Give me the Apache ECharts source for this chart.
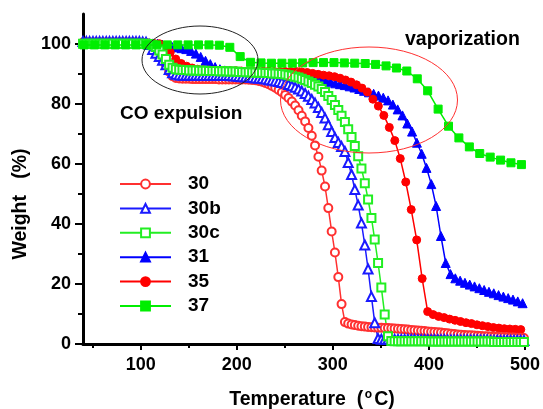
<!DOCTYPE html>
<html>
<head>
<meta charset="utf-8">
<script src="https://cdn.jsdelivr.net/npm/echarts@6/dist/echarts.min.js"></script>
<style>html,body{margin:0;padding:0;background:#fff}#c{width:543px;height:409px}</style>
</head>
<body>
<div id="c"></div>
<script>
// ---- tick values ----
var xMajor = [100, 200, 300, 400, 500];
var xMinor = [50, 150, 250, 350, 450];
var yMajor = [0, 20, 40, 60, 80, 100];
var yMinor = [10, 30, 50, 70, 90];
var seriesNames = ['30', '30b', '30c', '31', '35', '37'];

// ---- temperatures (°C) shared by 30, 30b, 30c ----
var tempDense = [40.0, 43.5, 46.9, 50.4, 53.8, 57.3, 60.7, 64.2, 67.6, 71.1,
74.5, 78.0, 81.4, 84.9, 88.3, 91.8, 95.2, 98.7, 102.1, 105.6,
109.0, 112.5, 115.9, 119.4, 122.8, 126.3, 129.7, 133.2, 136.6, 140.1,
143.5, 147.0, 150.4, 153.9, 157.3, 160.8, 164.2, 167.7, 171.1, 174.6,
178.0, 181.5, 184.9, 188.4, 191.8, 195.3, 198.7, 202.2, 205.6, 209.1,
212.5, 216.0, 219.4, 222.9, 226.3, 229.8, 233.2, 236.7, 240.1, 243.6,
247.0, 250.5, 253.9, 257.4, 260.8, 264.3, 267.7, 271.2, 274.6, 278.1,
281.5, 285.0, 288.4, 291.9, 295.3, 298.8, 302.2, 305.7, 309.1, 312.6,
316.0, 319.5, 322.9, 326.4, 329.8, 333.3, 336.7, 340.2, 343.6, 347.1,
350.5, 354.0, 357.4, 360.9, 364.3, 367.8, 371.2, 374.7, 378.1, 381.6,
385.0, 388.5, 391.9, 395.4, 398.8, 402.3, 405.7, 409.2, 412.6, 416.1,
419.5, 423.0, 426.4, 429.9, 433.3, 436.8, 440.2, 443.7, 447.1, 450.6,
454.0, 457.5, 460.9, 464.4, 467.8, 471.3, 474.7, 478.2, 481.6, 485.1,
488.5, 492.0, 495.4, 498.9];

var weight30 = [100.5,100.5,100.5,100.5,100.5,100.5,100.5,100.5,100.5,100.5,
100.5,100.5,100.5,100.5,100.5,100.5,100.5,100.4,100.4,100.3,
100.0,99.3,98.0,96.7,95.2,93.0,90.8,89.3,88.7,88.5,
88.4,88.4,88.4,88.3,88.3,88.3,88.3,88.3,88.3,88.3,
88.3,88.2,88.2,88.2,88.2,88.2,88.2,88.2,88.2,88.2,
88.1,88.0,87.9,87.7,87.4,87.0,86.6,86.0,85.4,84.7,
83.9,83.0,82.0,80.8,79.5,77.9,76.1,74.2,72.0,69.4,
66.2,62.4,57.8,52.5,45.3,37.5,30.5,22.3,13.3,7.3,
6.8,6.5,6.3,6.1,5.9,5.8,5.7,5.6,5.5,5.45,
5.4,5.35,5.3,5.25,5.2,5.1,5.0,4.9,4.8,4.7,
4.6,4.5,4.4,4.3,4.2,4.1,4.0,3.9,3.8,3.7,
3.6,3.4,3.3,3.2,3.1,3.0,2.95,2.9,2.8,2.75,
2.7,2.6,2.55,2.5,2.45,2.4,2.35,2.3,2.25,2.2,
2.15,2.1,2.05,2.0];

var weight30b = [100.8,100.8,100.8,100.8,100.8,100.8,100.8,100.8,100.8,100.8,
100.8,100.8,100.8,100.8,100.8,100.8,100.8,100.8,100.7,100.6,
99.8,98.2,96.9,95.8,94.6,93.1,91.5,90.4,89.9,89.7,
89.6,89.6,89.6,89.6,89.6,89.6,89.5,89.5,89.5,89.5,
89.5,89.5,89.5,89.5,89.5,89.4,89.3,89.2,89.1,89.0,
88.9,88.8,88.7,88.6,88.5,88.3,88.1,87.9,87.7,87.5,
87.2,86.9,86.5,86.1,85.6,85.0,84.3,83.5,82.6,81.5,
80.3,78.8,77.2,75.3,73.1,70.8,68.8,67.2,65.8,64.2,
60.5,56.5,51.5,46.3,40.3,33.0,25.0,15.8,7.1,1.8,
1.6,1.6,1.6,1.6,1.5,1.5,1.5,1.5,1.5,1.5,
1.5,1.4,1.4,1.4,1.4,1.4,1.4,1.4,1.4,1.4,
1.3,1.3,1.3,1.3,1.3,1.3,1.3,1.3,1.3,1.3,
1.3,1.3,1.3,1.2,1.2,1.2,1.2,1.2,1.2,1.2,
1.2,1.2,1.2,1.2];

var weight30c = [100.1,100.1,100.1,100.1,100.1,100.1,100.1,100.1,100.1,100.1,
100.1,100.1,100.1,100.1,100.1,100.1,100.1,100.1,100.1,100.1,
100.0,99.6,99.0,97.8,96.5,95.0,93.1,92.1,91.6,91.4,
91.3,91.3,91.2,91.2,91.2,91.1,91.1,91.1,91.0,91.0,
91.0,90.9,90.9,90.9,90.8,90.8,90.8,90.7,90.7,90.6,
90.6,90.5,90.5,90.4,90.4,90.3,90.3,90.2,90.2,90.1,
90.0,89.8,89.6,89.4,89.1,88.8,88.4,88.0,87.5,87.0,
86.4,85.8,85.0,84.0,82.7,81.3,79.7,78.0,76.1,74.0,
71.6,69.0,66.0,62.6,58.5,53.6,48.2,42.0,34.8,27.0,
18.8,9.8,2.6,1.0,0.9,0.9,0.9,0.9,0.9,0.9,
0.9,0.9,0.9,0.9,0.9,0.8,0.8,0.8,0.8,0.8,
0.8,0.8,0.8,0.8,0.8,0.8,0.8,0.8,0.8,0.8,
0.8,0.8,0.8,0.8,0.7,0.7,0.7,0.7,0.7,0.7,
0.7,0.7,0.7,0.7];

// ---- series 31 ----
var temp31 = [42.5, 47.5, 52.5, 57.5, 62.5, 67.5, 72.5, 77.5, 82.5, 87.5,
92.5, 97.5, 102.5, 107.5, 112.5, 117.5, 122.5, 127.5, 132.5, 137.5,
142.5, 147.5, 152.5, 157.5, 162.5, 167.5, 172.5, 177.5, 182.5, 187.5,
192.5, 197.5, 202.5, 207.5, 212.5, 217.5, 222.5, 227.5, 232.5, 237.5,
242.5, 247.5, 252.5, 257.5, 262.5, 267.5, 272.5, 277.5, 282.5, 287.5,
292.5, 297.5, 302.5, 307.5, 312.5, 317.5, 322.5, 327.5, 332.5, 337.5,
342.5, 347.5, 352.5, 357.5, 362.5, 367.5, 372.5, 377.5, 382.5, 387.5,
392.5, 397.5, 402.5, 407.5, 412.5, 417.5, 422.5, 427.5, 432.5, 437.5,
442.5, 447.5, 452.5, 457.5, 462.5, 467.5, 472.5, 477.5, 482.5, 487.5,
492.5, 497.5];
var weight31 = [100.3,100.3,100.3,100.3,100.3,100.3,100.3,100.3,100.3,100.3,
100.3,100.3,100.3,100.3,100.2,100.1,99.8,99.4,99.1,98.9,
98.6,98.3,97.7,96.8,95.7,94.4,93.3,92.3,91.6,91.2,
91.0,90.9,90.8,90.7,90.6,90.5,90.4,90.3,90.2,90.1,
90.0,89.9,89.8,89.7,89.6,89.4,89.1,88.8,88.5,88.2,
87.8,87.4,86.9,86.6,86.3,85.9,85.5,85.0,84.4,83.9,
83.4,82.8,82.1,81.2,79.8,78.2,76.2,73.5,70.8,67.1,
63.4,58.7,53.3,46.0,36.0,27.0,23.3,21.9,21.1,20.4,
19.8,19.2,18.6,18.0,17.4,16.9,16.3,15.8,15.3,14.8,
14.2,13.6];

// ---- series 35 ----
var temp35 = [39.6, 45.3, 51.0, 56.7, 62.4, 68.1, 73.8, 79.5, 85.2, 90.9,
96.6, 102.3, 108.0, 113.7, 119.4, 125.1, 130.8, 136.5, 142.2, 147.9,
153.6, 159.3, 165.0, 170.7, 176.4, 182.1, 187.8, 193.5, 199.2, 204.9,
210.6, 216.3, 222.0, 227.7, 233.4, 239.1, 244.8, 250.5, 256.2, 261.9,
267.6, 273.3, 279.0, 284.7, 290.4, 296.1, 301.8, 307.5, 313.2, 318.9,
324.6, 330.3, 336.0, 341.7, 347.4, 353.1, 358.8, 364.5, 370.2, 375.9,
381.6, 387.3, 393.0, 398.7, 404.4, 410.1, 415.8, 421.5, 427.2, 432.9,
438.6, 444.3, 450.0, 455.7, 461.4, 467.1, 472.8, 478.5, 484.2, 489.9,
495.6];
var weight35 = [100.2,100.2,100.2,100.2,100.2,100.2,100.2,100.2,100.2,100.2,
100.2,100.2,100.2,100.2,100.1,99.5,97.2,95.0,93.5,92.6,
92.0,91.6,91.4,91.3,91.3,91.2,91.2,91.1,91.1,91.0,
91.0,91.0,90.9,90.9,90.9,90.8,90.8,90.8,90.8,90.8,
90.7,90.5,90.2,89.9,89.6,89.4,89.1,88.6,88.0,87.3,
86.4,85.3,84.0,81.6,79.3,76.2,72.2,67.8,61.8,54.0,
44.8,34.7,21.8,10.8,9.8,9.2,8.8,8.3,7.9,7.5,
7.1,6.8,6.4,6.1,5.8,5.5,5.3,5.1,5.0,4.9,
4.8];

// ---- series 37 ----
var temp37 = [41.0, 51.8, 62.7, 73.5, 84.4, 95.2, 106.0, 116.9, 127.7, 138.6,
149.4, 160.2, 171.1, 181.9, 192.8, 203.6, 214.4, 225.3, 236.1, 247.0,
257.8, 268.6, 279.5, 290.3, 301.2, 312.0, 322.8, 333.7, 344.5, 355.4,
366.2, 377.0, 387.9, 398.7, 409.6, 420.4, 431.2, 442.1, 452.9, 463.8,
474.6, 485.4, 496.3];
var weight37 = [99.7,99.7,99.7,99.7,99.7,99.7,99.7,99.7,99.7,99.7,
99.7,99.7,99.7,99.6,98.9,95.8,93.9,93.7,93.6,93.6,
93.6,93.7,93.8,93.8,93.8,93.7,93.6,93.5,93.2,92.7,
92.0,91.0,88.4,84.4,78.3,72.6,68.7,65.7,63.5,62.3,
61.3,60.4,59.8];

function pairs(xs, ys) { return xs.map(function (x, i) { return [x, ys[i]]; }); }

var FONT = 'Arial, "Liberation Sans", sans-serif';

function mkSeries(name, xs, ys, symbol, size, color, z) {
  return {
    name: name, type: 'line', data: pairs(xs, ys),
    symbol: symbol, symbolSize: size, showSymbol: true,
    lineStyle: { color: color, width: 1.5 },
    itemStyle: { color: color, borderColor: color, borderWidth: 1 },
    z: z, silent: true, animation: false,
    emphasis: { disabled: true }
  };
}

var chart = echarts.init(document.getElementById('c'), null, { renderer: 'canvas' });

var option = {
  animation: false,
  backgroundColor: '#fff',
  grid: { left: 83, right: 16, top: 14, bottom: 65, containLabel: false },
  xAxis: [{
    type: 'value', min: 40, max: 500,
    axisLine: { show: true, onZero: false, lineStyle: { color: '#000', width: 3 } },
    axisTick: { show: true, customValues: xMajor, length: 6, lineStyle: { color: '#000', width: 2 } },
    axisLabel: { customValues: xMajor, color: '#000', fontSize: 18, fontWeight: 'bold', fontFamily: FONT, margin: 12 },
    splitLine: { show: false }
  }, {
    type: 'value', min: 40, max: 500, position: 'bottom',
    axisLine: { show: false, onZero: false },
    axisTick: { show: true, customValues: xMinor, length: 4, lineStyle: { color: '#000', width: 2 } },
    axisLabel: { show: false }, splitLine: { show: false }
  }],
  yAxis: [{
    type: 'value', min: 0, max: 110,
    axisLine: { show: true, onZero: false, lineStyle: { color: '#000', width: 3 } },
    axisTick: { show: true, customValues: yMajor, length: 8, lineStyle: { color: '#000', width: 2 } },
    axisLabel: { customValues: yMajor, color: '#000', fontSize: 18, fontWeight: 'bold', fontFamily: FONT, margin: 12 },
    splitLine: { show: false }
  }, {
    type: 'value', min: 0, max: 110, position: 'left',
    axisLine: { show: false, onZero: false },
    axisTick: { show: true, customValues: yMinor, length: 5, lineStyle: { color: '#000', width: 2 } },
    axisLabel: { show: false }, splitLine: { show: false }
  }],
  legend: {
    data: seriesNames, orient: 'vertical', left: 114, top: 169,
    itemWidth: 51, itemHeight: 11, itemGap: 4.4,
    textStyle: { color: '#000', fontSize: 19, fontWeight: 'bold', fontFamily: FONT, lineHeight: 20, padding: [0, 0, 0, 12] },
    selectedMode: false
  },
  series: [
    mkSeries('30', tempDense, weight30, 'emptyCircle', 8, '#ff3030', 3),
    mkSeries('30b', tempDense, weight30b, 'emptyTriangle', 9, '#1a1aff', 3),
    mkSeries('30c', tempDense, weight30c, 'emptyRect', 8, '#22ee22', 3),
    mkSeries('31', temp31, weight31, 'triangle', 9, '#0000ff', 2),
    mkSeries('35', temp35, weight35, 'circle', 8, '#ff0000', 2),
    mkSeries('37', temp37, weight37, 'rect', 8, '#00ee00', 4)
  ],
  graphic: [
    { type: 'ellipse', z: 10, silent: true, shape: { cx: 200, cy: 60, rx: 58, ry: 34 }, style: { fill: 'none', stroke: '#222', lineWidth: 1 } },
    { type: 'ellipse', z: 10, silent: true, shape: { cx: 369, cy: 100, rx: 88.5, ry: 53 }, style: { fill: 'none', stroke: '#ff3030', lineWidth: 1 } },
    { type: 'text', z: 10, silent: true, x: 120, y: 114, style: { text: 'CO expulsion', fontSize: 19, fontWeight: 'bold', fontFamily: FONT, fill: '#000', align: 'left', verticalAlign: 'middle' } },
    { type: 'text', z: 10, silent: true, x: 405, y: 40, style: { text: 'vaporization', fontSize: 19.5, fontWeight: 'bold', fontFamily: FONT, fill: '#000', align: 'left', verticalAlign: 'middle' } },
    { type: 'text', z: 10, silent: true, x: 21, y: 204, rotation: Math.PI / 2, style: { text: 'Weight   (%)', fontSize: 19.5, fontWeight: 'bold', fontFamily: FONT, fill: '#000', align: 'center', verticalAlign: 'middle' } },
    { type: 'text', z: 10, silent: true, x: 312, y: 400, style: {
        text: 'Temperature  ({gap|}C)', fontSize: 19.5, fontWeight: 'bold', fontFamily: FONT, fill: '#000', align: 'center', verticalAlign: 'middle',
        rich: { gap: { width: 11, fontSize: 12 } }
      } },
    { type: 'text', z: 10, silent: true, x: 368.5, y: 395, style: { text: 'o', fontSize: 12, fontWeight: 'bold', fontFamily: FONT, fill: '#000', align: 'center', verticalAlign: 'middle' } }
  ]
};
chart.setOption(option);
</script>
</body>
</html>
